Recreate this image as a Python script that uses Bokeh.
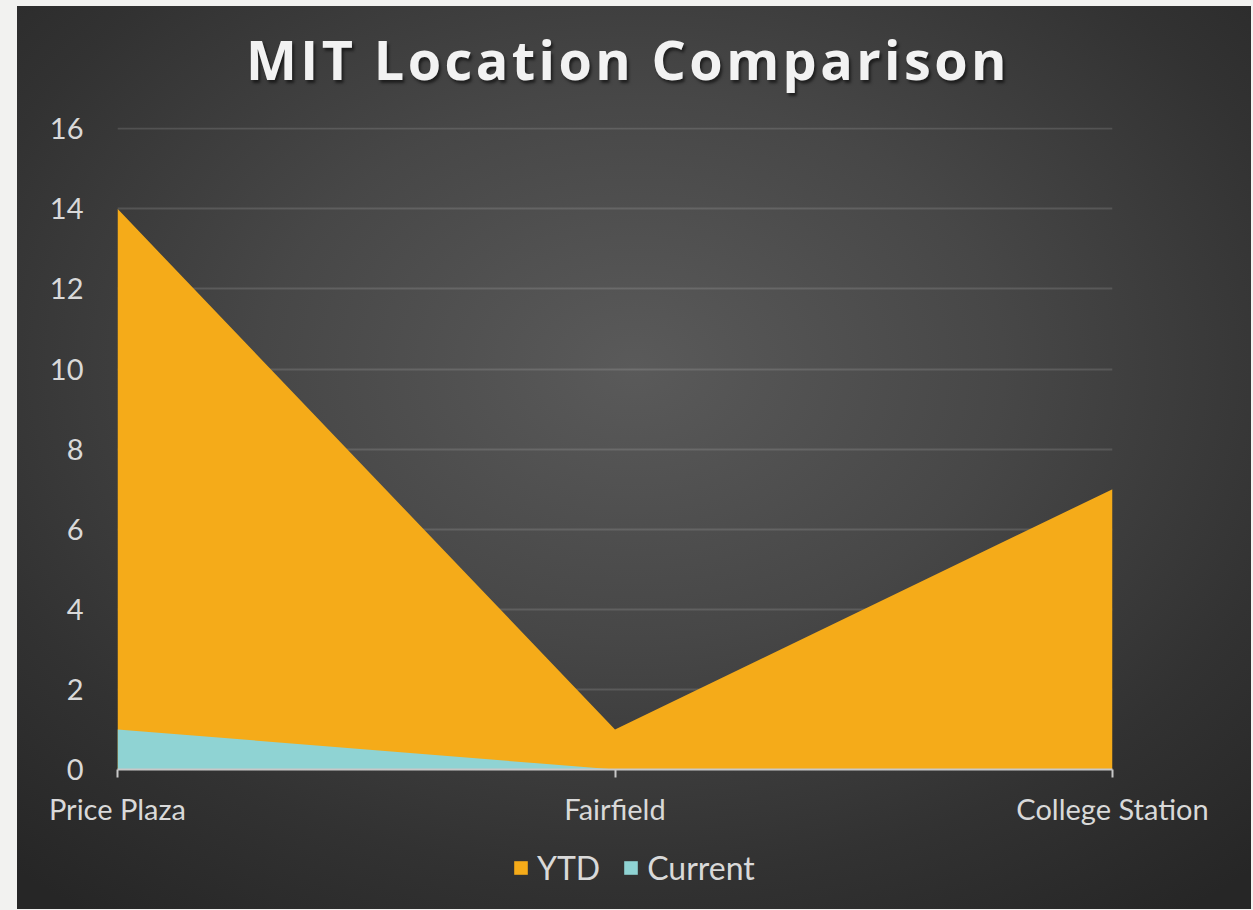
from bokeh.plotting import figure
from bokeh.layouts import column
from bokeh.models import (Range1d, FixedTicker, Legend, LegendItem, ColumnDataSource,
                          GlobalInlineStyleSheet, Div)
from bokeh.embed import file_html
from bokeh.resources import INLINE

title_text = "MIT Location Comparison"
categories = ["Price Plaza", "Fairfield", "College Station"]
ytd = [14, 1, 7]
current = [1, 0, 0]
y_ticks = [0, 2, 4, 6, 8, 10, 12, 14, 16]
series_names = ["YTD", "Current"]
series_colors = ["#f5ab19", "#8fd3d3"]

xs = list(range(len(categories)))
src = ColumnDataSource(dict(x=xs, ytd=ytd, current=current, zero=[0] * len(xs)))

W = 1224
title_div = Div(
    text=('<div style="padding-top:16px; width:%dpx; text-align:center; font-family:\'Open Sans\'; '
          'font-weight:bold; font-size:54px; line-height:65px; letter-spacing:3.4px; color:#f2f2f2; '
          'text-shadow:2px 3px 3px rgba(0,0,0,0.55); white-space:nowrap;">%s</div>') % (W - 12, title_text),
    width=W, height=91)

p = figure(width=W, height=738, output_backend="svg", toolbar_location=None,
           x_range=Range1d(0, len(categories) - 1), y_range=Range1d(0, max(y_ticks) * 1.002),
           min_border_left=100, min_border_right=129, min_border_top=20, min_border_bottom=76)
p.border_fill_alpha = 0
p.background_fill_alpha = 0
p.outline_line_color = None

r_ytd = p.varea(x="x", y1="zero", y2="ytd", source=src, fill_color=series_colors[0])
r_cur = p.varea(x="x", y1="zero", y2="current", source=src, fill_color=series_colors[1])

p.yaxis.ticker = FixedTicker(ticks=y_ticks)
p.yaxis.axis_line_color = None
p.yaxis.major_tick_line_color = None
p.yaxis.minor_tick_line_color = None
p.yaxis.major_label_text_font = "Lato"
p.yaxis.major_label_text_font_size = "29px"
p.yaxis.major_label_text_color = "#d9d9d9"
p.yaxis.major_label_standoff = 28

p.xaxis.ticker = FixedTicker(ticks=xs)
p.xaxis.major_label_overrides = {i: c for i, c in zip(xs, categories)}
p.xaxis.axis_line_color = "#c8c8c8"
p.xaxis.axis_line_width = 2
p.xaxis.major_tick_line_color = "#c8c8c8"
p.xaxis.major_tick_line_width = 2
p.xaxis.major_tick_in = 0
p.xaxis.major_tick_out = 8
p.xaxis.minor_tick_line_color = None
p.xaxis.major_label_text_font = "Lato"
p.xaxis.major_label_text_font_size = "29px"
p.xaxis.major_label_text_color = "#d9d9d9"
p.xaxis.major_label_standoff = 13

p.xgrid.grid_line_color = None
p.ygrid.ticker = FixedTicker(ticks=y_ticks)
p.ygrid.grid_line_color = "#ffffff"
p.ygrid.grid_line_alpha = 0.13
p.ygrid.grid_line_width = 2

# legend strip below the chart (its swatches come from off-screen copies of the series)
lg = figure(width=W, height=64, output_backend="svg", toolbar_location=None,
            x_range=Range1d(100, 101), y_range=Range1d(0, 1),
            x_axis_type=None, y_axis_type=None, min_border=0)
lg.border_fill_alpha = 0
lg.background_fill_alpha = 0
lg.outline_line_color = None
lg.xgrid.visible = False
lg.ygrid.visible = False
l_ytd = lg.varea(x="x", y1="zero", y2="ytd", source=src, fill_color=series_colors[0])
l_cur = lg.varea(x="x", y1="zero", y2="current", source=src, fill_color=series_colors[1])

legend = Legend(items=[LegendItem(label=series_names[0], renderers=[l_ytd]),
                       LegendItem(label=series_names[1], renderers=[l_cur])],
                orientation="horizontal", location=(395, 22))
legend.label_text_font = "Lato"
legend.label_text_font_size = "32px"
legend.label_text_color = "#d9d9d9"
legend.glyph_width = 17
legend.glyph_height = 17
legend.spacing = 22
legend.label_standoff = 8
legend.background_fill_alpha = 0
legend.border_line_color = None
legend.padding = 4
legend.margin = 0
lg.add_layout(legend, "center")

layout = column(title_div, p, lg, spacing=0)
layout.stylesheets = [GlobalInlineStyleSheet(css="html, body {background:#f2f2f0 !important;} body {margin: 6px 0 0 17px !important;}")]
layout.styles = {"background": "radial-gradient(ellipse 75% 75% at 50% 40%, #5a5a5a 0%, #474747 40%, #323232 75%, #262626 100%)"}

open("out.html", "w").write(file_html(layout, INLINE))
